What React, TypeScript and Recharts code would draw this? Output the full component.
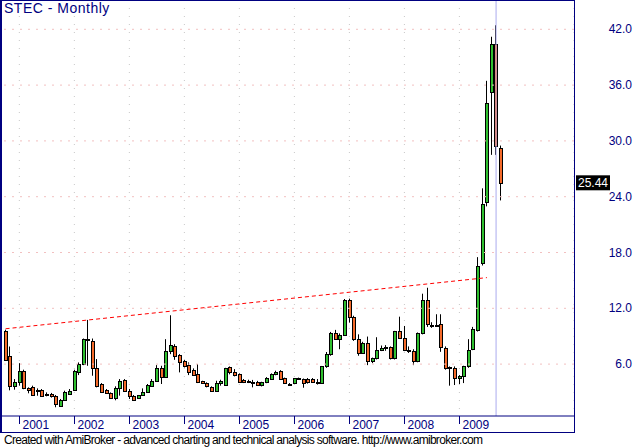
import React from 'react';
import { ComposedChart, Bar, Line, XAxis, YAxis, CartesianGrid, ReferenceLine } from 'recharts';

// monthly candles, Oct 2000 .. Oct 2009
const opens = [
  9.54, 6.82, 3.68, 4.11, 5.25, 3.39, 3.5, 3.25, 3.21, 2.82, 2.82, 2.61,
  1.54, 2.18, 2.75, 3.25, 5.18, 5.96, 8.68, 8.46, 5.54, 3.82, 3.18, 2.86,
  2.32, 3.39, 4.25, 3.11, 2.61, 2.32, 2.64, 2.96, 3.68, 4.18, 5.54, 4.61,
  7.39, 7.96, 6.96, 6.32, 5.89, 5.39, 4.93, 4.14, 3.96, 3.5, 3.14, 3.96,
  3.75, 5.64, 5.18, 4.89, 4.32, 4.14, 4.1, 4.04, 3.75, 4.04, 4.39, 4.89,
  5.29, 4.46, 3.9, 3.96, 4.46, 4.39, 4.4, 4.39, 4.1, 3.93, 5.75, 7.14,
  9.32, 8.75, 9.18, 12.89, 11.1, 8.68, 7.18, 8.25, 6.36, 6.61, 7.54, 7.79,
  7.79, 6.61, 9.54, 8.86, 7.54, 7.36, 6.29, 9.32, 12.89, 10.2, 10.2, 10.36,
  7.71, 5.64, 5.54, 4.5, 4.68, 5.75, 7.6, 9.68, 16.9, 23.43, 35.21, 40.46,
  29.2,
];
const highs = [
  9.7, 7.89, 4.39, 6.1, 5.4, 3.5, 3.68, 3.39, 3.32, 2.96, 2.9, 2.68,
  2.25, 3.14, 3.32, 5.39, 6.18, 8.75, 10.75, 8.75, 6.54, 3.96, 3.32, 2.96,
  3.61, 4.39, 4.39, 3.32, 2.68, 2.68, 3.39, 3.86, 4.39, 5.89, 5.82, 8.68,
  11.25, 8.14, 7.07, 6.46, 6.18, 5.54, 6.0, 4.21, 4.04, 3.61, 4.21, 4.32,
  5.6, 5.75, 5.46, 5.0, 4.4, 4.32, 4.3, 4.2, 4.1, 4.6, 5.0, 5.29,
  5.35, 4.55, 3.96, 4.5, 4.55, 4.45, 4.5, 4.5, 4.39, 5.8, 7.3, 9.46,
  9.68, 9.3, 13.0, 13.04, 11.2, 9.2, 8.4, 8.96, 6.7, 8.89, 8.0, 8.04,
  7.9, 9.57, 11.1, 10.1, 7.9, 7.6, 9.4, 13.57, 14.21, 10.5, 11.36, 11.36,
  7.9, 5.75, 5.75, 4.82, 5.82, 8.68, 10.0, 17.5, 24.9, 36.46, 41.2, 42.43,
  29.5,
];
const lows = [
  6.4, 3.18, 3.25, 3.68, 3.3, 2.86, 2.6, 2.6, 2.54, 2.54, 2.4, 1.36,
  1.46, 2.14, 2.68, 3.18, 4.82, 5.89, 5.82, 4.75, 3.5, 2.89, 2.79, 2.25,
  2.11, 2.61, 3.04, 2.25, 2.14, 2.25, 2.61, 2.89, 3.61, 4.11, 3.86, 4.54,
  7.07, 6.46, 5.11, 5.64, 4.82, 4.75, 3.96, 3.86, 3.5, 3.04, 3.1, 3.68,
  3.68, 4.9, 4.68, 4.0, 3.96, 3.96, 3.5, 3.7, 3.6, 3.95, 4.3, 4.8,
  4.3, 3.9, 3.7, 3.9, 4.35, 3.46, 3.9, 4.0, 3.8, 3.9, 5.6, 6.9,
  8.6, 7.6, 9.1, 10.46, 8.5, 6.9, 7.1, 5.89, 6.1, 6.5, 7.4, 7.43,
  6.5, 6.5, 8.7, 7.4, 7.2, 5.89, 6.2, 9.2, 10.0, 9.9, 10.0, 7.32,
  5.4, 3.68, 3.75, 3.86, 3.96, 5.6, 7.5, 9.5, 16.6, 22.96, 28.5, 28.5,
  23.6,
];
const closes = [
  6.46, 3.68, 4.04, 5.25, 3.39, 3.25, 2.71, 3.1, 2.61, 2.71, 2.61, 1.71,
  2.11, 2.96, 3.07, 5.25, 5.96, 8.68, 8.62, 5.61, 3.61, 2.96, 2.86, 2.32,
  3.46, 4.18, 3.14, 2.61, 2.18, 2.64, 2.96, 3.75, 4.18, 5.54, 4.61, 7.39,
  8.04, 6.89, 6.18, 5.82, 5.18, 4.82, 4.11, 3.96, 3.61, 3.14, 3.96, 4.14,
  5.54, 5.11, 4.82, 4.11, 4.11, 4.1, 4.11, 3.75, 4.04, 4.54, 4.89, 5.18,
  4.39, 3.96, 3.86, 4.46, 4.43, 3.96, 4.04, 4.11, 3.96, 5.75, 7.14, 9.32,
  8.75, 9.18, 12.89, 11.1, 8.68, 7.18, 8.25, 6.36, 6.64, 7.54, 7.75, 7.75,
  6.61, 9.54, 8.86, 7.54, 7.5, 6.36, 9.32, 12.89, 10.32, 10.1, 10.25, 7.89,
  5.57, 5.6, 4.5, 4.75, 5.75, 7.5, 9.75, 16.54, 23.25, 34.04, 40.46, 29.46,
  25.44,
];

// january of each year (bar index)
const yearTicks = [3, 15, 27, 39, 51, 63, 75, 87, 99];
const yearLabels = ['2001', '2002', '2003', '2004', '2005', '2006', '2007', '2008', '2009'];
const priceTicks = [6, 12, 18, 24, 30, 36, 42];
const lastClose = 25.44;
const selectedBar = 107;

// dashed trend line end points
const trendIdx = [0, 105];
const trendVal = [9.8, 15.3];

const NAVY = '#000080';
const UP = '#2fbf2f';
const DOWN = '#f46a2a';

const rows = closes.map((c, i) => {
  const t = trendIdx.indexOf(i);
  return {
    idx: i,
    o: opens[i],
    h: highs[i],
    l: lows[i],
    c,
    trend: t >= 0 ? trendVal[t] : null,
  };
});

function Candle(props: any) {
  const { x, y, width, height, payload } = props;
  if (!payload || height == null) return null;
  const { o, h, l, c } = payload;
  const ppu = height / (h - l);
  const col = Math.floor(x + width / 2);
  const top = Math.round(y + (h - Math.max(o, c)) * ppu) + 0.5;
  const bot = Math.round(y + (h - Math.min(o, c)) * ppu) + 0.5;
  return (
    <g>
      <line x1={col + 0.5} x2={col + 0.5} y1={y} y2={y + height} stroke="#000" />
      <rect x={col - 0.5} y={top} width={3} height={Math.max(bot - top, 1)}
        fill={c >= o ? UP : DOWN} stroke="#000" />
    </g>
  );
}

function YearTick(props: any) {
  const { x, payload } = props;
  const i = yearTicks.indexOf(payload.value);
  const px = Math.round(x) + 0.5;
  return (
    <g>
      <line x1={px} x2={px} y1={416} y2={424} stroke={NAVY} />
      <text x={px + 3} y={429} fill={NAVY} fontSize={12}>{yearLabels[i]}</text>
    </g>
  );
}

function PriceTick(props: any) {
  const { y, payload } = props;
  const v = payload.value;
  if (v === lastClose) {
    return (
      <g>
        <rect x={576} y={y - 8} width={34} height={15} fill="#000" />
        <text x={578} y={y + 4} fill="#fff" fontSize={12}>{v.toFixed(2)}</text>
      </g>
    );
  }
  return <text x={632} y={y + 4} fill={NAVY} fontSize={12} textAnchor="end">{v.toFixed(1)}</text>;
}

export default function App() {
  return (
    <div style={{ position: 'absolute', left: 0, top: 0, width: 635, height: 447, fontFamily: '"Liberation Sans", Arial, sans-serif', background: '#fff' }}>
      <ComposedChart width={635} height={447} data={rows} margin={{ top: 0, right: 0, bottom: 15, left: 1 }}>
        <CartesianGrid horizontal={false} stroke="#c8c8c8" strokeDasharray="1 7" />
        {priceTicks.map((v) => (
          <ReferenceLine key={v} y={v} stroke="#f2c0c0" strokeDasharray="2 6" />
        ))}
        <ReferenceLine x={selectedBar} stroke="#aaaaee" />
        <XAxis dataKey="idx" type="number" domain={[-1, 124]} ticks={yearTicks} interval={0}
          allowDataOverflow height={16} stroke={NAVY} tickLine={false} tick={<YearTick />} />
        <YAxis orientation="right" domain={[0.42, 45.15]} allowDataOverflow width={61}
          ticks={[...priceTicks, lastClose]} interval={0} axisLine={false} tickLine={false} tick={<PriceTick />} />
        <Line dataKey="trend" stroke="#ff0000" strokeDasharray="4 3" dot={false} connectNulls isAnimationActive={false} />
        <Bar dataKey={(d: any) => [d.l, d.h]} barSize={4} shape={<Candle />} isAnimationActive={false} />
      </ComposedChart>
      <div style={{ position: 'absolute', left: 0, top: 0, width: 575, height: 433, boxSizing: 'border-box',
        borderLeft: `2px solid ${NAVY}`, borderTop: `1px solid ${NAVY}`, borderRight: `1px solid ${NAVY}`, borderBottom: `1px solid ${NAVY}`, pointerEvents: 'none' }} />
      <div style={{ position: 'absolute', left: 4, top: 0, fontSize: 14, lineHeight: '16px', letterSpacing: 0.5, color: NAVY }}>
        STEC - Monthly
      </div>
      <div style={{ position: 'absolute', left: 4, top: 433, fontSize: 12, lineHeight: '14px', letterSpacing: -0.7, color: '#000', whiteSpace: 'nowrap' }}>
        Created with AmiBroker - advanced charting and technical analysis software. http://www.amibroker.com
      </div>
    </div>
  );
}
